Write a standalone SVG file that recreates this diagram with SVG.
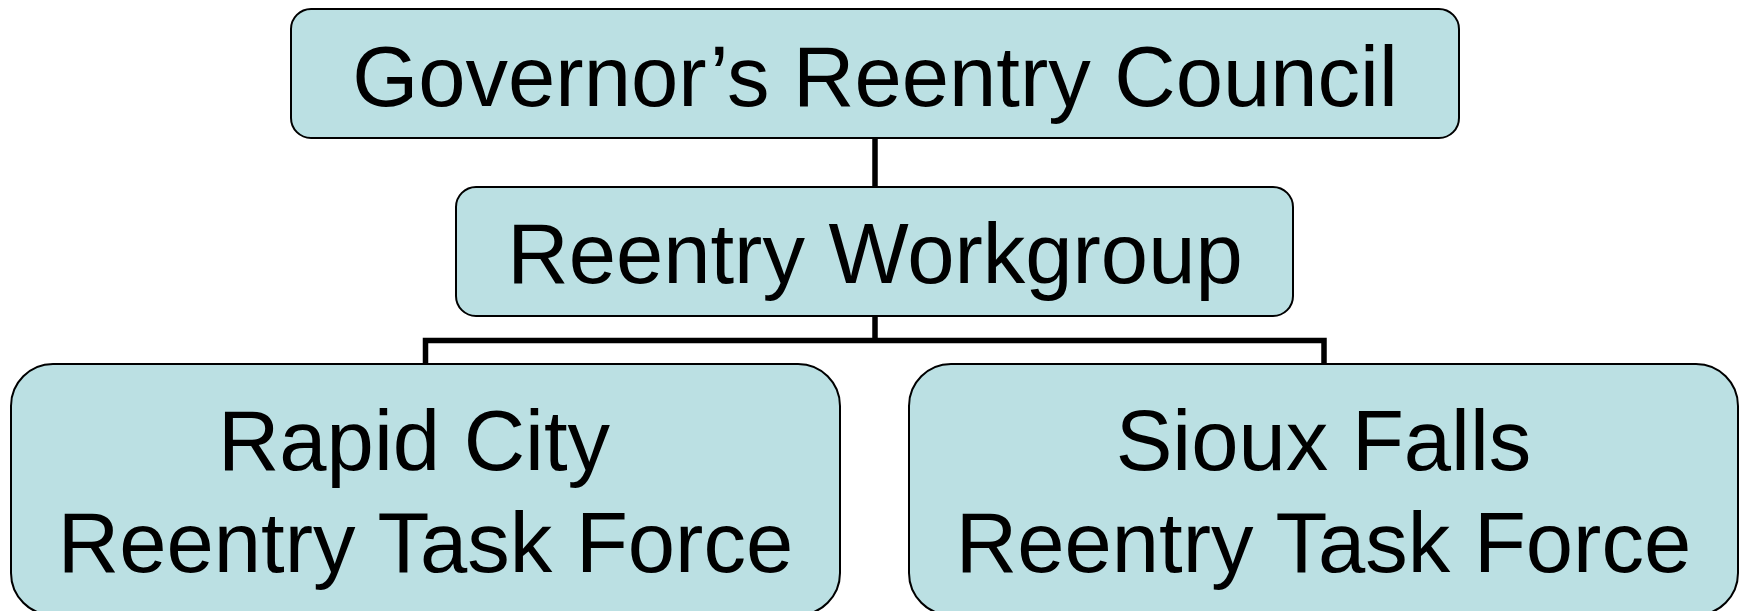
<svg xmlns="http://www.w3.org/2000/svg" width="1741" height="611" viewBox="0 0 1741 611">
<style>
.box{fill:#BBE0E3;stroke:#000;stroke-width:2}
.t{font-family:"Liberation Sans",Arial,sans-serif;font-size:85px;fill:#000;text-anchor:middle}
.c{stroke:#000;stroke-width:5.5;fill:none}
</style>
<rect width="1741" height="611" fill="#fff"/>
<g id="connectors">
<line class="c" x1="875" y1="138" x2="875" y2="187"/>
<line class="c" x1="875" y1="316" x2="875" y2="340.5"/>
<polyline class="c" points="425.5,364 425.5,340.5 1324,340.5 1324,364"/>
</g>
<g id="council">
<rect class="box" x="291" y="9" width="1168" height="129" rx="20"/>
<text class="t" x="875" y="106">Governor’s Reentry Council</text>
</g>
<g id="workgroup">
<rect class="box" x="456" y="187" width="837" height="129" rx="20"/>
<text class="t" x="875" y="283">Reentry Workgroup</text>
</g>
<g id="rapid-city">
<rect class="box" x="11" y="364" width="829" height="251" rx="42"/>
<text class="t" x="414" y="470" font-size="86">Rapid City</text>
<text class="t" x="425.5" y="572" font-size="87.5">Reentry Task Force</text>
</g>
<g id="sioux-falls">
<rect class="box" x="909" y="364" width="829" height="251" rx="42"/>
<text class="t" x="1323.5" y="470" font-size="86">Sioux Falls</text>
<text class="t" x="1323.5" y="572" font-size="87.5">Reentry Task Force</text>
</g>
</svg>
